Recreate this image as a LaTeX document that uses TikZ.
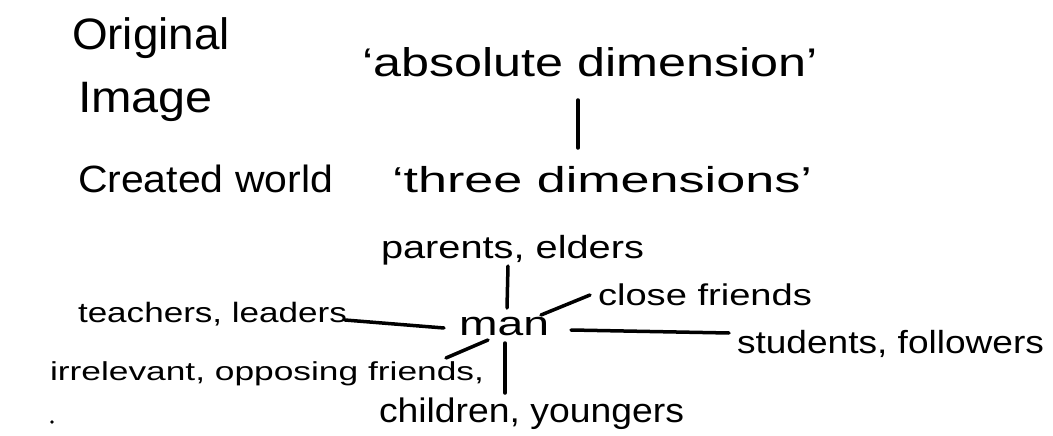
\documentclass[tikz,border=0pt]{standalone}
\usepackage{fontspec}
\usepackage{graphicx}
\setmainfont{Liberation Sans}
\newcommand\hw[3]{\resizebox{#1pt}{\height}{\fontsize{#2}{#2}\selectfont #3}}
\tikzset{
  lbl/.style={inner sep=0pt, outer sep=0pt, anchor=base west, text=black},
  conn/.style={draw=black, line width=3.5pt, line cap=round}
}
\begin{document}
\begin{tikzpicture}[x=1pt,y=-1pt]
\fill[white] (0,0) rectangle (1053,436);
\useasboundingbox (0,0) rectangle (1053,436);

% labels
\node[lbl] (orig)  at (72,50)   {\hw{158}{44}{Original}};
\node[lbl] (img)   at (78,112)  {\hw{135}{44}{Image}};
\node[lbl] (abs)   at (362,77)  {\hw{456}{40}{`absolute dimension'}};
\node[lbl] (cw)    at (78,192)  {\hw{255}{38}{Created world}};
\node[lbl] (three) at (392,192) {\hw{420}{36}{`three dimensions'}};
\node[lbl] (pe)    at (381,258) {\hw{263}{32}{parents, elders}};
\node[lbl] (man)   at (459,335) {\hw{90}{34}{man}};
\node[lbl] (cf)    at (598,305) {\hw{214}{30}{close friends}};
\node[lbl] (tl)    at (78,322)  {\hw{269}{28}{teachers, leaders}};
\node[lbl] (sf)    at (737,353) {\hw{307}{32}{students, followers}};
\node[lbl] (ir)    at (50,380)  {\hw{434}{26}{irrelevant, opposing friends,}};
\node[lbl] (cy)    at (379,422) {\hw{305}{34}{children, youngers}};

% connector end points
\coordinate (absB)   at (578,100);
\coordinate (threeT) at (578,148);
\coordinate (peB)    at (508,266);
\coordinate (manT)   at (507,308);
\coordinate (tlR)    at (345,320);
\coordinate (manL)   at (444,328);
\coordinate (manR)   at (571,330);
\coordinate (sfL)    at (729,333);
\coordinate (manNE)  at (541,315);
\coordinate (cfL)    at (590,295);
\coordinate (manSW)  at (488,340);
\coordinate (irR)    at (446,358);
\coordinate (manB)   at (505,343);
\coordinate (cyT)    at (505,393);

\draw[conn] (absB) -- (threeT);
\draw[conn] (peB) -- (manT);
\draw[conn] (tlR) -- (manL);
\draw[conn] (manR) -- (sfL);
\draw[conn] (manNE) -- (cfL);
\draw[conn] (manSW) -- (irR);
\draw[conn] (manB) -- (cyT);

\fill[black] (52,422) circle (1.8);
\end{tikzpicture}
\end{document}
